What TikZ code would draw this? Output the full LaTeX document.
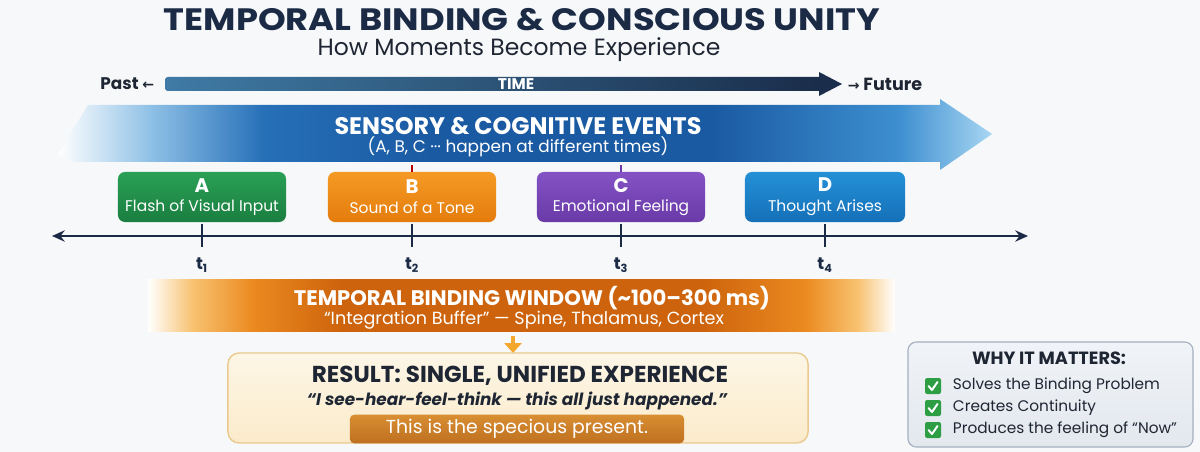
\documentclass[tikz,border=0pt]{standalone}
\usepackage{fontspec}
\setmainfont{Poppins}
\newfontfamily\symfont{DejaVu Sans}
\usepackage{graphicx}
\usepackage{tikz}
\usetikzlibrary{arrows.meta}
\usetikzlibrary{positioning}
\definecolor{bgcol}{HTML}{F7F8FA}
\definecolor{navy}{HTML}{1B2B45}
\definecolor{timelight}{HTML}{3F7BA5}
\definecolor{timedark}{HTML}{1A2D4A}
\definecolor{evpale}{HTML}{8EC0E6}
\definecolor{evmid}{HTML}{2670B8}
\definecolor{evblue}{HTML}{1A5AA3}
\definecolor{evright}{HTML}{3D8FD0}
\definecolor{evtip}{HTML}{A8D6F2}
\definecolor{orpale}{HTML}{F8C270}
\definecolor{ormid}{HTML}{EB8A20}
\definecolor{ordeep}{HTML}{CD630C}
\definecolor{arrowor}{HTML}{F3A72D}
\definecolor{greenA}{HTML}{2AA055}
\definecolor{greenAd}{HTML}{1A7E40}
\definecolor{orangeB}{HTML}{F59A25}
\definecolor{orangeBd}{HTML}{E47C0C}
\definecolor{purpleC}{HTML}{8452C4}
\definecolor{purpleCd}{HTML}{6A3AA8}
\definecolor{blueD}{HTML}{2490D6}
\definecolor{blueDd}{HTML}{1570B8}
\definecolor{resfill}{HTML}{FDF6E6}
\definecolor{resfilld}{HTML}{FBEBCB}
\definecolor{resdraw}{HTML}{E9C98D}
\definecolor{specfill}{HTML}{D88E32}
\definecolor{specfilld}{HTML}{BF7020}
\definecolor{whyfill}{HTML}{F0F3F7}
\definecolor{whyfilld}{HTML}{E3E8EE}
\definecolor{whydraw}{HTML}{A4B0BF}
\definecolor{checkgreen}{HTML}{2E9E44}
\definecolor{darktext}{HTML}{1F2633}
\pgfdeclarehorizontalshading{timeshade}{100bp}{color(0bp)=(timelight); color(25bp)=(timelight); color(75bp)=(timedark); color(100bp)=(timedark)}
\pgfdeclarehorizontalshading{eventshade}{100bp}{color(0bp)=(white); color(25bp)=(white); color(30bp)=(evpale); color(36bp)=(evmid); color(45bp)=(evblue); color(60bp)=(evblue); color(70bp)=(evright); color(75bp)=(evtip); color(100bp)=(evtip)}
\pgfdeclarehorizontalshading{windowshade}{100bp}{color(0bp)=(white); color(25bp)=(white); color(28bp)=(orpale); color(32bp)=(ormid); color(38bp)=(ordeep); color(62bp)=(ordeep); color(69bp)=(ormid); color(72.5bp)=(orpale); color(75bp)=(white); color(100bp)=(white)}

\begin{document}
\begin{tikzpicture}[x=0.025cm,y=-0.025cm,
    evbox/.style={rounded corners=5pt,minimum width=4.2cm,minimum height=1.25cm,
      text=white,align=center,inner sep=2pt,font=\fontsize{11}{14}\selectfont},
    ticklbl/.style={text=navy,font=\bfseries\fontsize{12}{14}\selectfont},
    timetick/.style={navy,line width=1.5pt},
    greencheck/.pic={
      \fill[checkgreen,rounded corners=1.5pt] (-8,-8) rectangle (8,8);
      \draw[white,line width=1.4pt,line cap=round,line join=round] (-4.5,0) -- (-1,4) -- (4.5,-4);
    }]

      \useasboundingbox (0,0) rectangle (1200,452);
      \fill[bgcol] (0,0) rectangle (1200,452);

      % heading
      \node[text=navy,inner sep=1pt,font=\bfseries\fontsize{22}{24}\selectfont] (title) at (522,20) {\scalebox{1.14}[1]{TEMPORAL BINDING \& CONSCIOUS UNITY}};
      \node[text=darktext,inner sep=1pt,font=\fontsize{16.7}{19}\selectfont] (subtitle) at (519,50) {How Moments Become Experience};

      % time bar
      \shade[shading=timeshade,rounded corners=2pt] (165,77) rectangle (822,91);
      \fill[timedark] (819,72) -- (842,84) -- (819,96) -- cycle;
      \node[text=white,font=\bfseries\fontsize{11}{13}\selectfont] (time) at (516,84.5) {TIME};
      \node[anchor=east,text=darktext,font=\bfseries\fontsize{12}{14}\selectfont] (past) at (159,84) {Past {\symfont\bfseries\fontsize{10}{12}\selectfont ←}};
      \node[anchor=west,text=darktext,font=\bfseries\fontsize{12.5}{15}\selectfont] (future) at (843,84) {{\symfont\bfseries\fontsize{10}{12}\selectfont →} Future};

      % events band
      \shade[shading=eventshade] (88,105) -- (940,105) -- (940,99) -- (992,134) -- (940,170)
        -- (940,162) -- (72,162) -- (58,154) -- cycle;
      \node[text=white,font=\bfseries\fontsize{17}{20}\selectfont] (events) at (518,126) {SENSORY \& COGNITIVE EVENTS};
      \node[text=white,font=\fontsize{12}{14}\selectfont] (eventsub) at (518,147) {(A, B, C ··· happen at different times)};

      % event boxes
      \node[evbox,top color=greenA,bottom color=greenAd] (evA) at (202,197)
        {{\bfseries\fontsize{14}{15}\selectfont A}\\Flash of Visual Input};
      \node[evbox,top color=orangeB,bottom color=orangeBd] (evB) at (412,197)
        {{\bfseries\fontsize{14}{15}\selectfont B}\\Sound of a Tone};
      \node[evbox,top color=purpleC,bottom color=purpleCd] (evC) at (621,197)
        {{\bfseries\fontsize{14}{15}\selectfont C}\\Emotional Feeling};
      \node[evbox,minimum width=4cm,top color=blueD,bottom color=blueDd] (evD) at (825,197)
        {{\bfseries\fontsize{14}{15}\selectfont D}\\Thought Arises};
      \draw[red!70!black,line width=1pt] (evB.north) -- +(0,-7);
      \draw[purpleCd,line width=1pt] (evC.north) -- +(0,-7);

      % timeline
      \coordinate (lineL) at (52,236);
      \coordinate (lineR) at (1028,236);
      \draw[navy,line width=1.8pt,{Stealth[length=9pt,width=8pt]}-{Stealth[length=9pt,width=8pt]}] (lineL) -- (lineR);
      \foreach \ev/\n in {evA/1,evB/2,evC/3,evD/4} {
        \draw[timetick] (\ev.south |- 0,224) -- (\ev.south |- 0,247);
        \node[ticklbl] (t\n) at (\ev.south |- 0,265) {t\textsubscript{\n}};
      }

      % binding window
      \shade[shading=windowshade] (148,279) rectangle (895,331);
      \node[text=white,font=\bfseries\fontsize{15}{18}\selectfont] (window) at (532,298) {TEMPORAL BINDING WINDOW (\textasciitilde100–300 ms)};
      \node[text=white,font=\fontsize{12.5}{15}\selectfont] (windowsub) at (524,320) {“Integration Buffer” — Spine, Thalamus, Cortex};

      \coordinate (arrtop) at (513,336);
      \coordinate (arrbot) at (513,353);
      \draw[arrowor,line width=3.5pt,-{Triangle[length=7pt,width=12pt]}] (arrtop) -- (arrbot);

      % result
      \node[draw=resdraw,line width=1pt,rounded corners=8pt,top color=resfill,bottom color=resfilld,
        minimum width=14.5cm,minimum height=2.25cm] (result) at (518,398) {};
      \node[text=darktext,font=\bfseries\fontsize{16.4}{19}\selectfont] (resulthead) at (520,376) {RESULT: SINGLE, UNIFIED EXPERIENCE};
      \node[text=darktext,font=\bfseries\itshape\fontsize{12}{15}\selectfont] (quote) at (517,401) {“I see-hear-feel-think — this all just happened.”};
      \node[rounded corners=3pt,top color=specfill,bottom color=specfilld,text=white,
        minimum width=8.35cm,minimum height=0.6cm,font=\fontsize{13.4}{15}\selectfont] (specious) at (517,429) {This is the specious present.};

      % why it matters
      \node[draw=whydraw,line width=0.8pt,rounded corners=6pt,top color=whyfill,bottom color=whyfilld,
        minimum width=7.125cm,minimum height=2.625cm] (why) at (1050.5,394.5) {};
      \node[text=darktext,font=\bfseries\fontsize{12.6}{15}\selectfont] (whyhead) at (1049,358) {WHY IT MATTERS:};
      \foreach \y/\txt in {386/Solves the Binding Problem,408/Creates Continuity,430/Produces the feeling of “Now”} {
        \pic at (933,\y) {greencheck};
        \node[anchor=west,text=darktext,font=\fontsize{10.9}{13}\selectfont] at (948,\y) {\txt};
      }

    \end{tikzpicture}
\end{document}
